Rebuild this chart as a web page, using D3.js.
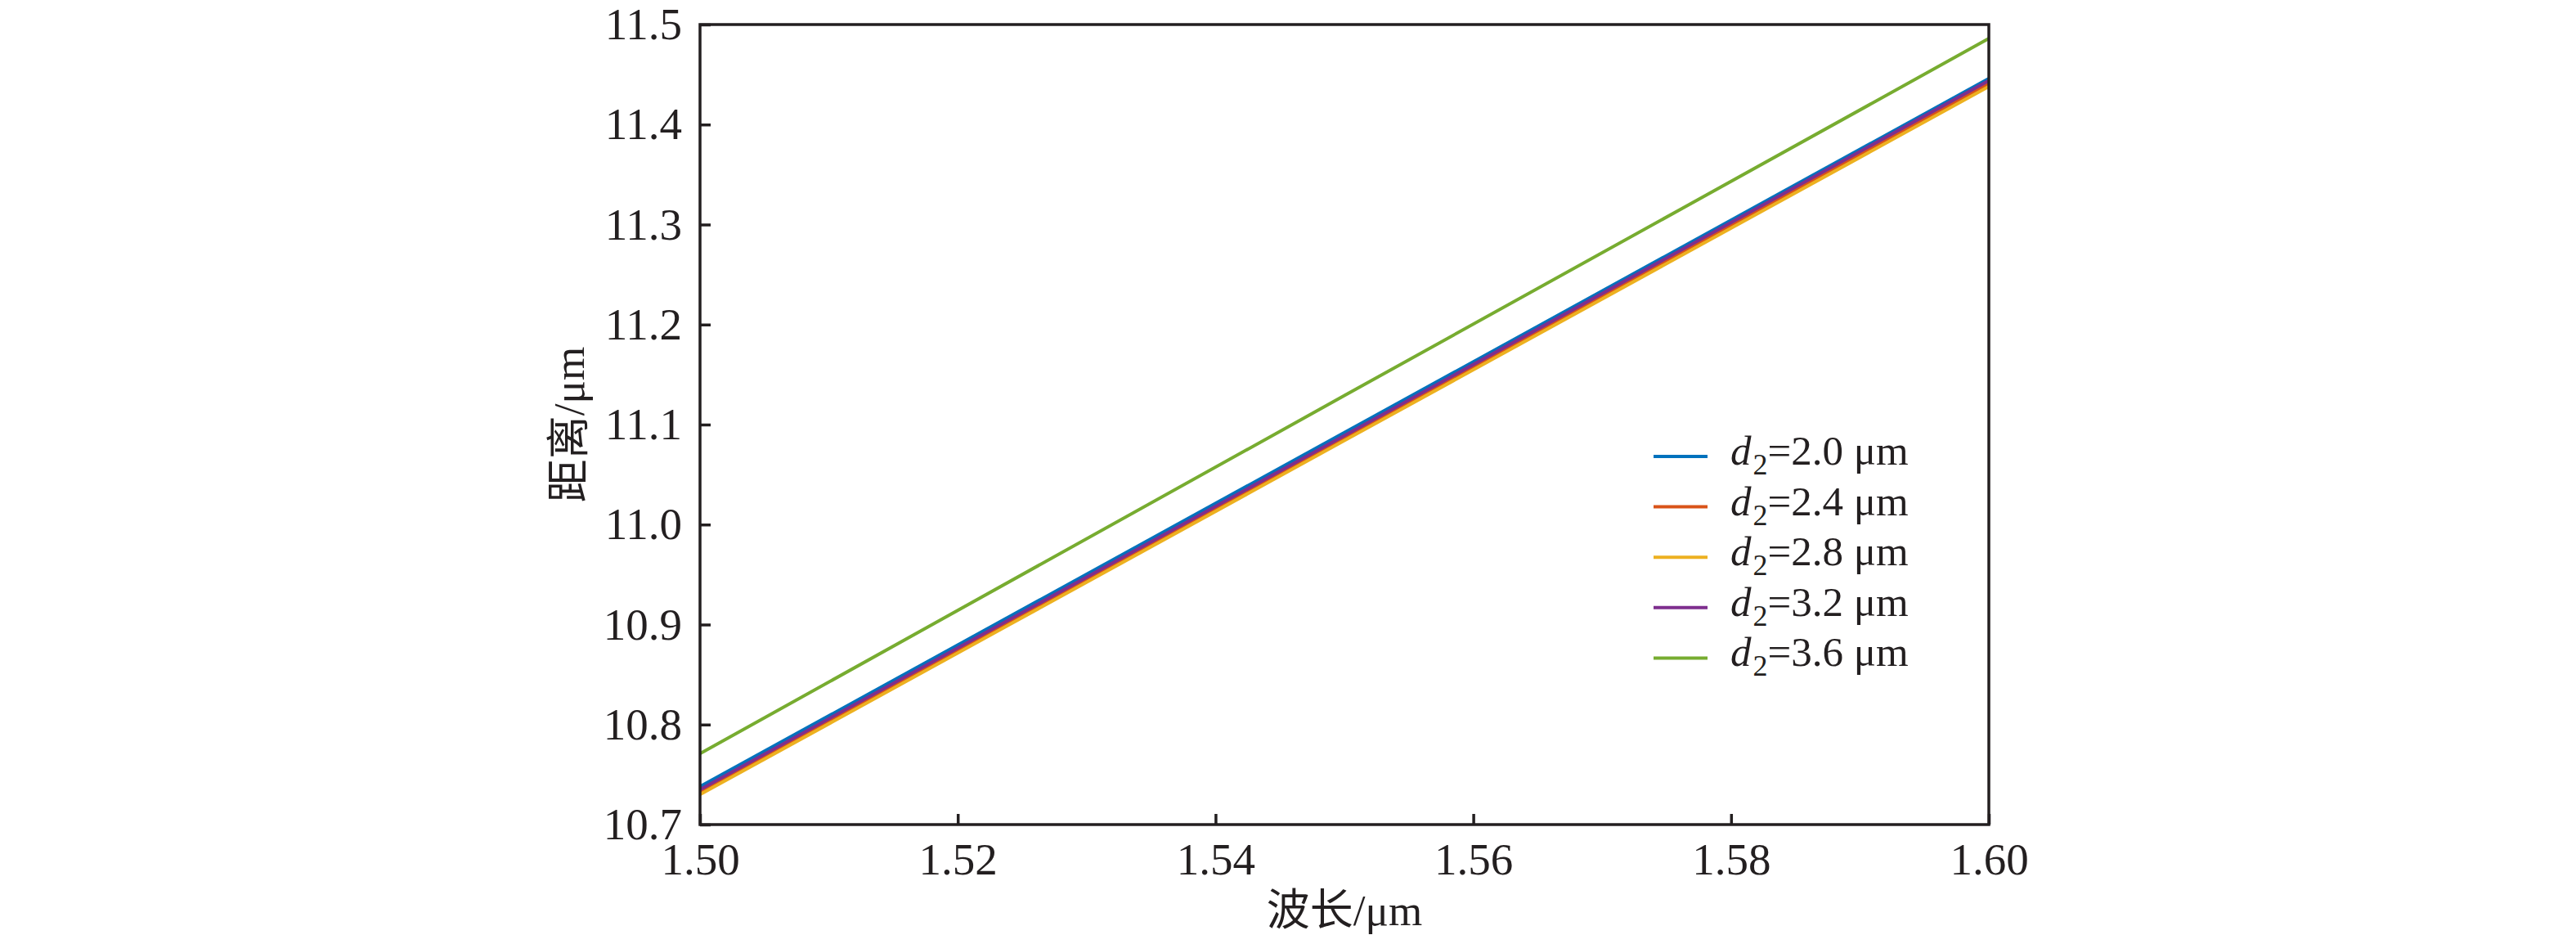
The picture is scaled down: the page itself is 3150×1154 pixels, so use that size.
<!DOCTYPE html>
<html>
<head>
<meta charset="utf-8">
<script src="https://cdn.jsdelivr.net/npm/d3@7"></script>
<style>
	html, body { margin: 0; padding: 0; background: #fff; }
	svg text { font-family: 'Liberation Serif', 'Times New Roman', 'Noto Sans CJK SC', serif; fill: #231f20; }
</style>
</head>
<body>
<svg id="chart" width="3150" height="1154"></svg>
<script>
'use strict';

// Wavelength samples (um)
var wavelength = [1.50, 1.55, 1.60];

// Distance (um) for each d2
var dist_d20 = [10.738, 11.092, 11.446];
var dist_d24 = [10.733, 11.087, 11.441];
var dist_d28 = [10.730, 11.084, 11.438];
var dist_d32 = [10.735, 11.089, 11.444];
var dist_d36 = [10.771, 11.129, 11.486];

var series_labels = ['2.0', '2.4', '2.8', '3.2', '3.6'];
var series_values = [dist_d20, dist_d24, dist_d28, dist_d32, dist_d36];
var series_colours = ['#0072bd', '#d95319', '#edb120', '#7e2f8e', '#77ac30'];

var x_ticks = [1.50, 1.52, 1.54, 1.56, 1.58, 1.60];
var y_ticks = [10.7, 10.8, 10.9, 11.0, 11.1, 11.2, 11.3, 11.4, 11.5];

var margin = { left: 856, right: 2432, top: 30, bottom: 1008 };
var ink = '#231f20';

var svg = d3.select('#chart');

var x_scale = d3.scaleLinear().domain([1.50, 1.60]).range([margin.left, margin.right]);
var y_scale = d3.scaleLinear().domain([10.7, 11.5]).range([margin.bottom, margin.top]);

// Series lines
var line = d3.line()
	.x(function(d) { return x_scale(d[0]); })
	.y(function(d) { return y_scale(d[1]); });

var series = series_values.map(function(vals, i) {
	return {
		label: series_labels[i],
		colour: series_colours[i],
		points: wavelength.map(function(w, j) { return [w, vals[j]]; })
	};
});

svg.append('g').selectAll('path.series')
	.data(series)
	.enter().append('path')
	.attr('class', 'series')
	.attr('d', function(d) { return line(d.points); })
	.attr('fill', 'none')
	.attr('stroke', function(d) { return d.colour; })
	.attr('stroke-width', 4);

// Axes with inward ticks
var x_axis = svg.append('g')
	.attr('transform', 'translate(0,' + margin.bottom + ')')
	.call(d3.axisBottom(x_scale)
		.tickValues(x_ticks)
		.tickFormat(d3.format('.2f'))
		.tickSizeInner(-13)
		.tickSizeOuter(0)
		.tickPadding(22));

var y_axis = svg.append('g')
	.attr('transform', 'translate(' + margin.left + ',0)')
	.call(d3.axisLeft(y_scale)
		.tickValues(y_ticks)
		.tickFormat(d3.format('.1f'))
		.tickSizeInner(-13)
		.tickSizeOuter(0)
		.tickPadding(22));

[x_axis, y_axis].forEach(function(ax) {
	ax.select('.domain').remove();
	ax.selectAll('.tick line').attr('stroke', ink).attr('stroke-width', 3.5);
	ax.selectAll('.tick text')
		.attr('fill', ink)
		.style('font-size', '55px')
		.style('font-family', "'Liberation Serif', serif");
});

// Frame
svg.append('rect')
	.attr('x', margin.left)
	.attr('y', margin.top)
	.attr('width', margin.right - margin.left)
	.attr('height', margin.bottom - margin.top)
	.attr('fill', 'none')
	.attr('stroke', ink)
	.attr('stroke-width', 3.5);

// Axis titles
svg.append('text')
	.attr('x', (margin.left + margin.right) / 2)
	.attr('y', 1131)
	.attr('text-anchor', 'middle')
	.style('font-size', '53px')
	.text('波长/μm');

svg.append('text')
	.attr('transform', 'translate(714,' + ((margin.top + margin.bottom) / 2) + ') rotate(-90)')
	.attr('text-anchor', 'middle')
	.style('font-size', '53px')
	.text('距离/μm');

// Legend
var legend = svg.append('g').attr('transform', 'translate(2022,558)');
var rows = legend.selectAll('g.row')
	.data(series)
	.enter().append('g')
	.attr('class', 'row')
	.attr('transform', function(d, i) { return 'translate(0,' + (i * 61.6) + ')'; });

rows.append('line')
	.attr('x1', 0).attr('x2', 66)
	.attr('y1', 0).attr('y2', 0)
	.attr('stroke', function(d) { return d.colour; })
	.attr('stroke-width', 4);

var label = rows.append('text')
	.attr('x', 94)
	.attr('y', 10)
	.style('font-size', '51px');
label.append('tspan').style('font-style', 'italic').text('d');
label.append('tspan').attr('dy', 12).attr('dx', 2).style('font-size', '36px').text('2');
label.append('tspan').attr('dy', -12).text(function(d) { return '=' + d.label + ' μm'; });
</script>
</body>
</html>
